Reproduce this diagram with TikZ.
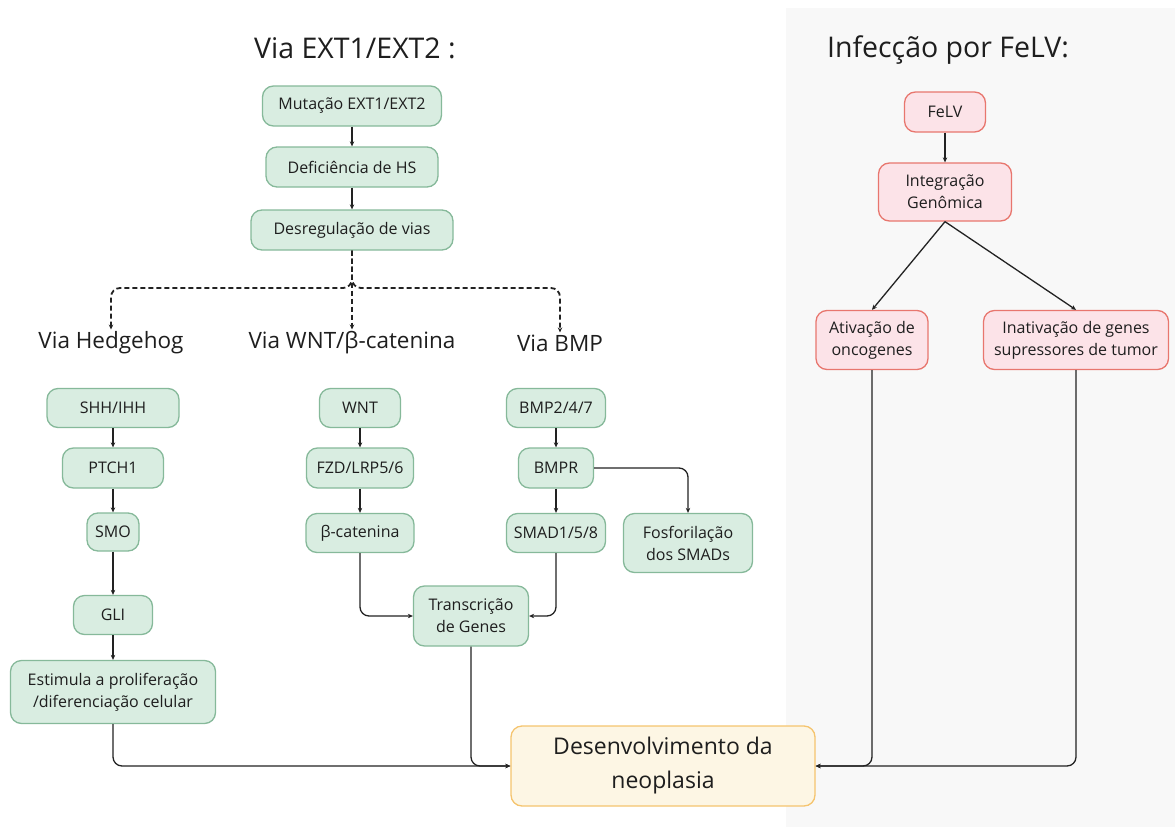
\documentclass[tikz,border=0pt]{standalone}
\usepackage{fontspec}
\setmainfont{Open Sans}
\usetikzlibrary{arrows.meta}
\definecolor{gfill}{HTML}{D9EDE1}
\definecolor{gdraw}{HTML}{86B99A}
\definecolor{rfill}{HTML}{FCE3E8}
\definecolor{rdraw}{HTML}{E8766E}
\definecolor{yfill}{HTML}{FDF6E4}
\definecolor{ydraw}{HTML}{F5C46E}
\definecolor{panelc}{HTML}{F8F8F8}
\definecolor{txt}{HTML}{1E1E1E}
\definecolor{linec}{HTML}{222222}
\tikzset{
  box/.style={rounded corners=11pt, line width=1.3pt, inner sep=0pt, align=center, text=txt,
    font=\fontsize{16}{22}\selectfont},
  gbox/.style={box, fill=gfill, draw=gdraw},
  rbox/.style={box, fill=rfill, draw=rdraw},
  ybox/.style={box, fill=yfill, draw=ydraw, font=\fontsize{23}{34}\selectfont},
  arr/.style={draw=linec, line width=1.3pt, -{Stealth[length=5pt,width=4.5pt]}, rounded corners=9pt},
  darr/.style={arr, line width=1.8pt, dash pattern=on 5pt off 3pt},
  title/.style={text=txt, font=\fontsize{28.5}{32}\selectfont, inner sep=0pt},
  sub/.style={text=txt, font=\fontsize{22.5}{26}\selectfont, inner sep=2pt},
}
\begin{document}
\begin{tikzpicture}[x=1pt,y=-1pt]
\useasboundingbox (0,0) rectangle (1175,827);
\fill[panelc] (786,8) rectangle (1175,827);

% titles
\node[title] (t1) at (355,48) {Via EXT1/EXT2 :};
\node[title] (t2) at (948,50) {Infecção por FeLV:};

% top chain
\node[gbox, minimum width=179pt, minimum height=40pt] (mut) at (352,106) {Mutação EXT1/EXT2};
\node[gbox, minimum width=172pt, minimum height=40pt] (def) at (352,167) {Deficiência de HS};
\node[gbox, minimum width=202pt, minimum height=40pt] (des) at (352,230) {Desregulação de vias};

% sub titles
\node[sub] (vh) at (111,343) {Via Hedgehog};
\node[sub] (vw) at (352,343) {Via WNT/β-catenina};
\node[sub] (vb) at (560,343) {Via BMP};
\coordinate (j) at (352,288);

% hedgehog
\node[gbox, minimum width=132pt, minimum height=39pt] (shh) at (113,408) {SHH/IHH};
\node[gbox, minimum width=101pt, minimum height=40pt] (ptch) at (113,468) {PTCH1};
\node[gbox, minimum width=52pt, minimum height=38pt] (smo) at (113,532) {SMO};
\node[gbox, minimum width=79pt, minimum height=39pt] (gli) at (113,615) {GLI};
\node[gbox, minimum width=205pt, minimum height=63pt] (est) at (113,692) {Estimula a proliferação\\/diferenciação celular};

% wnt
\node[gbox, minimum width=81pt, minimum height=39pt] (wnt) at (360,408) {WNT};
\node[gbox, minimum width=107pt, minimum height=40pt] (fzd) at (360,468) {FZD/LRP5/6};
\node[gbox, minimum width=108pt, minimum height=39pt] (bcat) at (360,533) {β-catenina};
\node[gbox, minimum width=115pt, minimum height=60pt] (tra) at (471,616) {Transcrição\\de Genes};

% bmp
\node[gbox, minimum width=99pt, minimum height=39pt] (bmp) at (556,408) {BMP2/4/7};
\node[gbox, minimum width=75pt, minimum height=40pt] (bmpr) at (556,468) {BMPR};
\node[gbox, minimum width=99pt, minimum height=39pt] (smad) at (556,533) {SMAD1/5/8};
\node[gbox, minimum width=129pt, minimum height=59pt] (fos) at (688,543) {Fosforilação\\dos SMADs};

% final
\node[ybox, minimum width=304pt, minimum height=80pt] (neo) at (663,766) {Desenvolvimento da\\neoplasia};

% FeLV
\node[rbox, minimum width=81pt, minimum height=40pt] (felv) at (945,112) {FeLV};
\node[rbox, minimum width=133pt, minimum height=58pt] (int) at (945,192) {Integração\\Genômica};
\node[rbox, minimum width=112pt, minimum height=59pt] (ati) at (872,340) {Ativação de\\oncogenes};
\node[rbox, minimum width=185pt, minimum height=59pt] (ina) at (1076,340) {Inativação de genes\\supressores de tumor};

% connectors top
\draw[arr] (mut) -- (def);
\draw[arr] (def) -- (des);
\draw[darr] (des.south) -- (j) -| (vh.north);
\draw[darr] (des.south) -- (j) -| (vb.north);
\draw[darr] (des.south) -- (vw.north);

% hedgehog
\draw[arr] (shh) -- (ptch);
\draw[arr] (ptch) -- (smo);
\draw[arr] (smo) -- (gli);
\draw[arr] (gli) -- (est);
% wnt
\draw[arr] (wnt) -- (fzd);
\draw[arr] (fzd) -- (bcat);
\draw[arr] (bcat.south) |- (tra.west);
% bmp
\draw[arr] (bmp) -- (bmpr);
\draw[arr] (bmpr) -- (smad);
\draw[arr] (bmpr.east) -| (fos.north);
\draw[arr] (smad.south) |- (tra.east);

% to final
\draw[arr] (est.south) |- (neo.west);
\draw[arr] (tra.south) |- (neo.west);
\draw[arr] (ati.south) |- (neo.east);
\draw[arr] (ina.south) |- (neo.east);

% FeLV
\draw[arr] (felv) -- (int);
\draw[arr] (int.south) -- (ati.north);
\draw[arr] (int.south) -- (ina.north);
\end{tikzpicture}
\end{document}
